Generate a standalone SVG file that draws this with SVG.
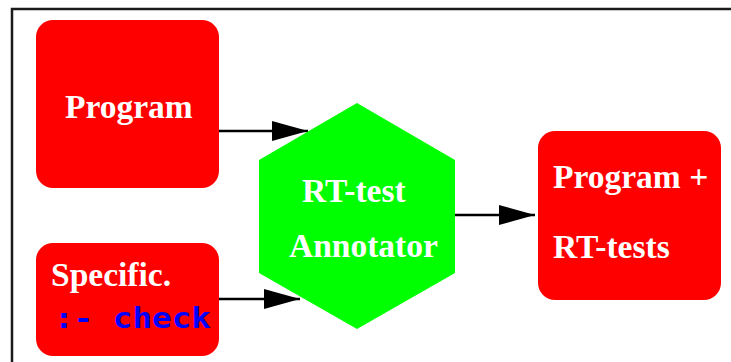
<svg xmlns="http://www.w3.org/2000/svg" width="731" height="362" viewBox="0 0 731 362">
<style>
.box{fill:#ff0000}
.lbl{font-family:"Liberation Serif","Times New Roman",serif;font-weight:bold;font-size:33.5px;fill:#ffffff}
.code{font-family:"DejaVu Sans Mono","Liberation Mono",monospace;font-weight:bold;font-size:29px;fill:#0000ff}
.edge{stroke:#000;stroke-width:2.5;fill:none}
</style>
<defs>
<marker id="ah" viewBox="0 0 36 20" refX="36" refY="10" markerWidth="36" markerHeight="20" markerUnits="userSpaceOnUse" orient="auto">
<path d="M0,0 L36,10 L0,20 z" fill="#000"/>
</marker>
</defs>
<rect width="731" height="362" fill="#fff"/>
<path d="M12,362 L12,9 L731,9" fill="none" stroke="#1a1a1a" stroke-width="2.5"/>
<g id="connectors">
<line class="edge" x1="219" y1="131" x2="308" y2="131" marker-end="url(#ah)"/>
<line class="edge" x1="219" y1="299" x2="300" y2="299" marker-end="url(#ah)"/>
<line class="edge" x1="455" y1="215" x2="535" y2="215" marker-end="url(#ah)"/>
</g>
<g id="program">
<rect class="box" x="36" y="20" width="183" height="168" rx="17"/>
<text class="lbl" x="65" y="118">Program</text>
</g>
<g id="specific">
<rect class="box" x="36" y="243" width="183" height="113" rx="17"/>
<text class="lbl" x="51" y="286">Specific.</text>
<text class="code" x="54" y="328" xml:space="preserve" textLength="157" lengthAdjust="spacingAndGlyphs">:- check</text>
</g>
<g id="annotator">
<polygon points="357,103 455,160 455,273 357,329 259,273 259,160" fill="#00ff00"/>
<text class="lbl" x="302" y="202">RT-test</text>
<text class="lbl" x="289" y="257">Annotator</text>
</g>
<g id="result">
<rect class="box" x="538" y="131" width="183" height="169" rx="17"/>
<text class="lbl" x="553" y="188">Program +</text>
<text class="lbl" x="553" y="258">RT-tests</text>
</g>
</svg>
